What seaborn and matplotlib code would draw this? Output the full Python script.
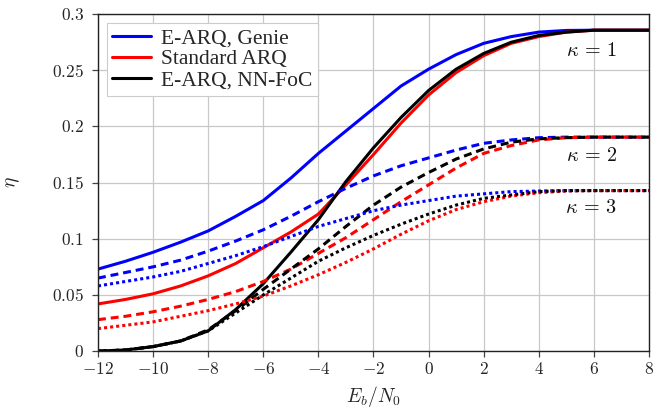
import matplotlib
matplotlib.use("Agg")
import matplotlib.pyplot as plt
import seaborn as sns
import pandas as pd
from matplotlib.lines import Line2D
from matplotlib.ticker import FixedLocator, FuncFormatter

# ---------------- data ----------------
ebn0 = [-12, -11, -10, -9, -8, -7, -6, -5, -4, -3, -2, -1, 0, 1, 2, 3, 4, 5, 6, 7, 8]

genie_k1 = [0.073, 0.080, 0.088, 0.097, 0.107, 0.120, 0.134, 0.154, 0.176, 0.196, 0.216,
            0.236, 0.251, 0.264, 0.274, 0.280, 0.284, 0.2855, 0.2857, 0.2857, 0.2857]
std_k1 = [0.042, 0.046, 0.051, 0.058, 0.067, 0.078, 0.092, 0.106, 0.122, 0.148, 0.175,
          0.203, 0.228, 0.248, 0.263, 0.274, 0.280, 0.284, 0.2857, 0.2857, 0.2857]
nn_k1 = [0.0, 0.001, 0.004, 0.009, 0.018, 0.037, 0.060, 0.088, 0.117, 0.151, 0.181,
         0.208, 0.232, 0.251, 0.265, 0.275, 0.281, 0.284, 0.2857, 0.2857, 0.2857]

genie_k2 = [0.065, 0.070, 0.075, 0.081, 0.089, 0.098, 0.108, 0.120, 0.133, 0.145, 0.156,
            0.165, 0.172, 0.179, 0.185, 0.188, 0.190, 0.1905, 0.1905, 0.1905, 0.1905]
std_k2 = [0.028, 0.031, 0.035, 0.040, 0.046, 0.053, 0.062, 0.073, 0.087, 0.101, 0.117,
          0.133, 0.148, 0.163, 0.176, 0.183, 0.188, 0.190, 0.1905, 0.1905, 0.1905]
nn_k2 = [0.0, 0.001, 0.004, 0.009, 0.019, 0.036, 0.055, 0.073, 0.091, 0.111, 0.130,
         0.146, 0.159, 0.171, 0.180, 0.186, 0.189, 0.190, 0.1905, 0.1905, 0.1905]

genie_k3 = [0.058, 0.062, 0.066, 0.071, 0.078, 0.085, 0.093, 0.102, 0.111, 0.118, 0.125,
            0.130, 0.134, 0.138, 0.140, 0.142, 0.1425, 0.1429, 0.1429, 0.1429, 0.1429]
std_k3 = [0.020, 0.023, 0.026, 0.031, 0.036, 0.042, 0.049, 0.058, 0.068, 0.079, 0.091,
          0.104, 0.116, 0.126, 0.133, 0.138, 0.141, 0.1425, 0.1429, 0.1429, 0.1429]
nn_k3 = [0.0, 0.001, 0.004, 0.009, 0.018, 0.034, 0.050, 0.065, 0.080, 0.092, 0.103,
         0.113, 0.122, 0.130, 0.136, 0.139, 0.142, 0.1429, 0.1429, 0.1429, 0.1429]

methods = ["E-ARQ, Genie", "Standard ARQ", "E-ARQ, NN-FoC"]
kappas = [1, 2, 3]
x_ticks = [-12, -10, -8, -6, -4, -2, 0, 2, 4, 6, 8]
y_ticks = [0, 0.05, 0.1, 0.15, 0.2, 0.25, 0.3]
kappa_labels = [r"$\kappa\,=\,1$", r"$\kappa\,=\,2$", r"$\kappa\,=\,3$"]
kappa_label_y = [0.267, 0.173, 0.127]

series = {
    ("E-ARQ, Genie", 1): genie_k1, ("Standard ARQ", 1): std_k1, ("E-ARQ, NN-FoC", 1): nn_k1,
    ("E-ARQ, Genie", 2): genie_k2, ("Standard ARQ", 2): std_k2, ("E-ARQ, NN-FoC", 2): nn_k2,
    ("E-ARQ, Genie", 3): genie_k3, ("Standard ARQ", 3): std_k3, ("E-ARQ, NN-FoC", 3): nn_k3,
}

rows = []
for (m, k), vals in series.items():
    for xv, yv in zip(ebn0, vals):
        rows.append({"EbN0": xv, "eta": yv, "method": m, "kappa": k})
df = pd.DataFrame(rows)

# ---------------- style ----------------
sns.set_theme(style="whitegrid")
plt.rcParams["mathtext.fontset"] = "cm"
plt.rcParams["font.family"] = ["Liberation Serif", "DejaVu Serif"]

colors = {"E-ARQ, Genie": "#0000ff", "Standard ARQ": "#ff0000", "E-ARQ, NN-FoC": "#000000"}
dash_styles = {1: "", 2: (2.6, 1.6), 3: (1.0, 1.0)}
lw = 2.2

fig = plt.figure(figsize=(6.54, 4.16), dpi=100)
ax = fig.add_axes([0.1498, 0.156, 0.8425, 0.810])

for k in kappas:
    for m in methods:
        sub = df[(df["method"] == m) & (df["kappa"] == k)]
        sns.lineplot(data=sub, x="EbN0", y="eta", ax=ax, color=colors[m],
                     linewidth=lw, legend=False, estimator=None, sort=True)
        line = ax.lines[-1]
        if dash_styles[k]:
            line.set_dashes(dash_styles[k])
            line.set_dash_capstyle("butt")

ax.set_xlim(-12, 8)
ax.set_ylim(0, 0.3)
ax.xaxis.set_major_locator(FixedLocator(x_ticks))
ax.yaxis.set_major_locator(FixedLocator(y_ticks))
ax.xaxis.set_major_formatter(FuncFormatter(lambda v, p: r"$%d$" % round(v)))
ax.yaxis.set_major_formatter(FuncFormatter(lambda v, p: r"$%s$" % ("0" if v == 0 else ("%g" % v))))

ax.grid(True, color="#c8c8c8", linewidth=0.9)
for s in ax.spines.values():
    s.set_color("#222222")
    s.set_linewidth(1.0)
ax.tick_params(axis="both", which="major", direction="out", length=4, width=0.9,
               color="#444444", labelsize=12.5, bottom=True, left=True)
ax.tick_params(axis="y", pad=6)
ax.tick_params(axis="x", pad=4)

ax.set_xlabel(r"$E_b/N_0$", fontsize=14, labelpad=4)
ax.set_ylabel(r"$\eta$", fontsize=14, labelpad=22)

for lab, yy in zip(kappa_labels, kappa_label_y):
    ax.text(5.9, yy, lab, fontsize=14.5, ha="center", va="center", color="#111111")

handles = [Line2D([0], [0], color=colors[m], linewidth=2.2) for m in methods]
leg = ax.legend(handles, methods, loc="upper left", fontsize=15.5, frameon=True,
                fancybox=False, framealpha=1.0, edgecolor="#cccccc",
                borderpad=0.25, labelspacing=0.05, handlelength=1.8, handletextpad=0.5,
                borderaxespad=0.4)
leg.get_frame().set_linewidth(0.8)

fig.savefig("out.png", dpi=100)
